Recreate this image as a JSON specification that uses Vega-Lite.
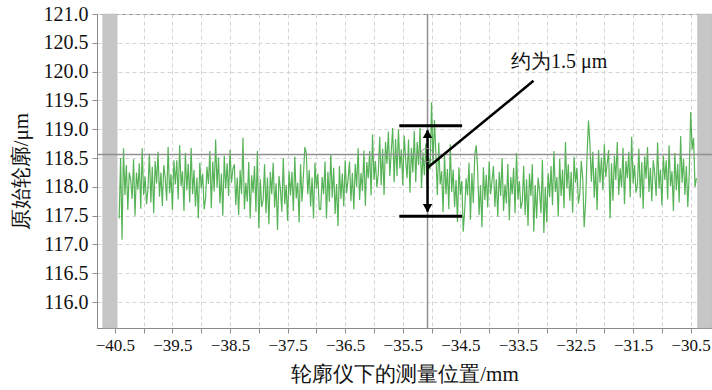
{
"$schema": "https://vega.github.io/schema/vega-lite/v6.json",
"width": 615,
"height": 314,
"autosize": {"type": "none"},
"padding": {"left": 97, "top": 14, "right": 0, "bottom": 62},
"config": {
  "font": "Liberation Serif",
  "view": {"stroke": "#8c8c8c", "strokeWidth": 1},
  "axis": {
    "labelFont": "Liberation Serif",
    "titleFont": "Liberation Serif",
    "labelColor": "#111",
    "titleColor": "#111",
    "titleFontWeight": "normal",
    "domainColor": "#8c8c8c",
    "tickColor": "#8c8c8c",
    "tickSize": 5,
    "labelOverlap": false,
    "gridColor": "#d4d4d4",
    "gridDash": [4, 3],
    "gridWidth": 1
  }
},
"datasets": {
  "profile": [
{"x":-40.425,"y":117.45},{"x":-40.4,"y":118.5},{"x":-40.375,"y":117.08},{"x":-40.35,"y":118.67},{"x":-40.325,"y":117.86},{"x":-40.3,"y":118.38},{"x":-40.275,"y":117.6},{"x":-40.25,"y":118.25},{"x":-40.225,"y":118.12},{"x":-40.2,"y":117.79},{"x":-40.175,"y":118.48},{"x":-40.15,"y":117.5},{"x":-40.125,"y":118.25},{"x":-40.1,"y":117.95},{"x":-40.075,"y":118.41},{"x":-40.05,"y":117.62},{"x":-40.025,"y":118.67},{"x":-40,"y":117.86},{"x":-39.975,"y":118.18},{"x":-39.95,"y":117.7},
{"x":-39.925,"y":117.96},{"x":-39.9,"y":118.58},{"x":-39.875,"y":117.73},{"x":-39.85,"y":118.35},{"x":-39.825,"y":117.54},{"x":-39.8,"y":118.45},{"x":-39.775,"y":118.06},{"x":-39.75,"y":118.61},{"x":-39.725,"y":117.83},{"x":-39.7,"y":118.25},{"x":-39.675,"y":117.67},{"x":-39.65,"y":118.38},{"x":-39.625,"y":118.15},{"x":-39.6,"y":117.76},{"x":-39.575,"y":118.69},{"x":-39.55,"y":117.89},{"x":-39.525,"y":118.22},{"x":-39.5,"y":117.6},{"x":-39.475,"y":118.46},{"x":-39.45,"y":118.04},
{"x":-39.425,"y":118.46},{"x":-39.4,"y":117.78},{"x":-39.375,"y":118.72},{"x":-39.35,"y":118.01},{"x":-39.325,"y":118.27},{"x":-39.3,"y":117.58},{"x":-39.275,"y":118.59},{"x":-39.25,"y":117.94},{"x":-39.225,"y":118.4},{"x":-39.2,"y":117.73},{"x":-39.175,"y":118.68},{"x":-39.15,"y":117.87},{"x":-39.125,"y":118.29},{"x":-39.1,"y":117.66},{"x":-39.075,"y":118.16},{"x":-39.05,"y":117.45},{"x":-39.025,"y":118.42},{"x":-39,"y":117.97},{"x":-38.975,"y":118.23},{"x":-38.95,"y":117.61},
{"x":-38.925,"y":117.79},{"x":-38.9,"y":118.35},{"x":-38.875,"y":118.05},{"x":-38.85,"y":118.62},{"x":-38.825,"y":117.63},{"x":-38.8,"y":118.44},{"x":-38.775,"y":117.92},{"x":-38.75,"y":118.82},{"x":-38.725,"y":117.99},{"x":-38.7,"y":118.51},{"x":-38.675,"y":117.71},{"x":-38.65,"y":118.23},{"x":-38.625,"y":117.5},{"x":-38.6,"y":118.54},{"x":-38.575,"y":117.97},{"x":-38.55,"y":118.41},{"x":-38.525,"y":117.84},{"x":-38.5,"y":118.64},{"x":-38.475,"y":118.07},{"x":-38.45,"y":118.31},
{"x":-38.425,"y":118.39},{"x":-38.4,"y":117.68},{"x":-38.375,"y":118.16},{"x":-38.35,"y":117.51},{"x":-38.325,"y":118.29},{"x":-38.3,"y":117.87},{"x":-38.275,"y":118.85},{"x":-38.25,"y":117.61},{"x":-38.225,"y":118.07},{"x":-38.2,"y":117.74},{"x":-38.175,"y":118.43},{"x":-38.15,"y":117.45},{"x":-38.125,"y":118.2},{"x":-38.1,"y":117.9},{"x":-38.075,"y":118.36},{"x":-38.05,"y":117.57},{"x":-38.025,"y":118.62},{"x":-38,"y":117.28},{"x":-37.975,"y":118.13},{"x":-37.95,"y":117.65},
{"x":-37.925,"y":117.77},{"x":-37.9,"y":118.39},{"x":-37.875,"y":117.54},{"x":-37.85,"y":118.16},{"x":-37.825,"y":117.35},{"x":-37.8,"y":118.26},{"x":-37.775,"y":117.87},{"x":-37.75,"y":118.42},{"x":-37.725,"y":117.64},{"x":-37.7,"y":118.06},{"x":-37.675,"y":117.25},{"x":-37.65,"y":118.19},{"x":-37.625,"y":117.96},{"x":-37.6,"y":117.57},{"x":-37.575,"y":118.5},{"x":-37.55,"y":117.7},{"x":-37.525,"y":118.03},{"x":-37.5,"y":117.41},{"x":-37.475,"y":118.27},{"x":-37.45,"y":117.85},
{"x":-37.425,"y":118.26},{"x":-37.4,"y":117.58},{"x":-37.375,"y":118.52},{"x":-37.35,"y":117.8},{"x":-37.325,"y":118.07},{"x":-37.3,"y":117.38},{"x":-37.275,"y":118.39},{"x":-37.25,"y":117.74},{"x":-37.225,"y":118.2},{"x":-37.2,"y":118.69},{"x":-37.175,"y":118.58},{"x":-37.15,"y":117.87},{"x":-37.125,"y":118.29},{"x":-37.1,"y":117.66},{"x":-37.075,"y":118.16},{"x":-37.05,"y":117.45},{"x":-37.025,"y":118.42},{"x":-37,"y":117.97},{"x":-36.975,"y":118.23},{"x":-36.95,"y":117.61},
{"x":-36.925,"y":117.61},{"x":-36.9,"y":118.17},{"x":-36.875,"y":117.87},{"x":-36.85,"y":118.44},{"x":-36.825,"y":117.45},{"x":-36.8,"y":118.26},{"x":-36.775,"y":117.74},{"x":-36.75,"y":118.57},{"x":-36.725,"y":117.81},{"x":-36.7,"y":118.33},{"x":-36.675,"y":117.53},{"x":-36.65,"y":118.05},{"x":-36.625,"y":117.32},{"x":-36.6,"y":118.36},{"x":-36.575,"y":117.79},{"x":-36.55,"y":118.23},{"x":-36.525,"y":117.66},{"x":-36.5,"y":118.46},{"x":-36.475,"y":117.89},{"x":-36.45,"y":118.13},
{"x":-36.425,"y":118.44},{"x":-36.4,"y":117.75},{"x":-36.375,"y":118.24},{"x":-36.35,"y":117.61},{"x":-36.325,"y":118.4},{"x":-36.3,"y":118.0},{"x":-36.275,"y":118.67},{"x":-36.25,"y":117.77},{"x":-36.225,"y":118.24},{"x":-36.2,"y":117.93},{"x":-36.175,"y":118.63},{"x":-36.15,"y":117.67},{"x":-36.125,"y":118.43},{"x":-36.1,"y":118.15},{"x":-36.075,"y":118.62},{"x":-36.05,"y":117.85},{"x":-36.025,"y":118.91},{"x":-36,"y":118.12},{"x":-35.975,"y":118.45},{"x":-35.95,"y":117.99},
{"x":-35.925,"y":118.24},{"x":-35.9,"y":118.87},{"x":-35.875,"y":118.03},{"x":-35.85,"y":118.66},{"x":-35.825,"y":117.86},{"x":-35.8,"y":118.78},{"x":-35.775,"y":118.4},{"x":-35.75,"y":118.96},{"x":-35.725,"y":118.19},{"x":-35.7,"y":118.62},{"x":-35.675,"y":119.02},{"x":-35.65,"y":118.08},{"x":-35.625,"y":118.83},{"x":-35.6,"y":118.19},{"x":-35.575,"y":119.0},{"x":-35.55,"y":118.32},{"x":-35.525,"y":118.65},{"x":-35.5,"y":118.03},{"x":-35.475,"y":118.89},{"x":-35.45,"y":118.47},
{"x":-35.425,"y":118.15},{"x":-35.4,"y":118.82},{"x":-35.375,"y":117.9},{"x":-35.35,"y":118.68},{"x":-35.325,"y":118.25},{"x":-35.3,"y":118.97},{"x":-35.275,"y":118.08},{"x":-35.25,"y":118.78},{"x":-35.225,"y":118.38},{"x":-35.2,"y":119.02},{"x":-35.175,"y":117.98},{"x":-35.15,"y":118.6},{"x":-35.125,"y":118.2},{"x":-35.1,"y":118.75},{"x":-35.075,"y":118.05},{"x":-35.05,"y":118.5},{"x":-35.025,"y":118.3},{"x":-35,"y":119.47},{"x":-34.975,"y":118.38},{"x":-34.95,"y":119.16},
{"x":-34.925,"y":118.56},{"x":-34.9,"y":117.86},{"x":-34.875,"y":118.77},{"x":-34.85,"y":118.04},{"x":-34.825,"y":118.27},{"x":-34.8,"y":117.56},{"x":-34.775,"y":118.55},{"x":-34.75,"y":117.87},{"x":-34.725,"y":118.31},{"x":-34.7,"y":117.61},{"x":-34.675,"y":118.74},{"x":-34.65,"y":117.91},{"x":-34.625,"y":118.3},{"x":-34.6,"y":117.65},{"x":-34.575,"y":118.12},{"x":-34.55,"y":117.39},{"x":-34.525,"y":118.34},{"x":-34.5,"y":117.86},{"x":-34.475,"y":118.1},{"x":-34.45,"y":117.22},
{"x":-34.425,"y":117.59},{"x":-34.4,"y":118.15},{"x":-34.375,"y":117.85},{"x":-34.35,"y":118.42},{"x":-34.325,"y":117.43},{"x":-34.3,"y":118.24},{"x":-34.275,"y":117.72},{"x":-34.25,"y":118.55},{"x":-34.225,"y":118.72},{"x":-34.2,"y":118.31},{"x":-34.175,"y":117.51},{"x":-34.15,"y":118.03},{"x":-34.125,"y":117.3},{"x":-34.1,"y":118.34},{"x":-34.075,"y":117.77},{"x":-34.05,"y":118.21},{"x":-34.025,"y":117.64},{"x":-34,"y":118.44},{"x":-33.975,"y":117.87},{"x":-33.95,"y":118.11},
{"x":-33.925,"y":118.36},{"x":-33.9,"y":117.65},{"x":-33.875,"y":118.13},{"x":-33.85,"y":117.48},{"x":-33.825,"y":118.26},{"x":-33.8,"y":117.84},{"x":-33.775,"y":118.5},{"x":-33.75,"y":117.58},{"x":-33.725,"y":118.04},{"x":-33.7,"y":117.71},{"x":-33.675,"y":118.4},{"x":-33.65,"y":117.42},{"x":-33.625,"y":118.17},{"x":-33.6,"y":117.87},{"x":-33.575,"y":118.33},{"x":-33.55,"y":117.54},{"x":-33.525,"y":118.59},{"x":-33.5,"y":117.78},{"x":-33.475,"y":118.1},{"x":-33.45,"y":117.62},
{"x":-33.425,"y":117.74},{"x":-33.4,"y":118.36},{"x":-33.375,"y":117.51},{"x":-33.35,"y":118.13},{"x":-33.325,"y":117.32},{"x":-33.3,"y":118.23},{"x":-33.275,"y":117.84},{"x":-33.25,"y":118.39},{"x":-33.225,"y":117.22},{"x":-33.2,"y":118.03},{"x":-33.175,"y":117.45},{"x":-33.15,"y":118.16},{"x":-33.125,"y":117.93},{"x":-33.1,"y":117.54},{"x":-33.075,"y":118.47},{"x":-33.05,"y":117.2},{"x":-33.025,"y":118.0},{"x":-33,"y":117.38},{"x":-32.975,"y":118.24},{"x":-32.95,"y":117.82},
{"x":-32.925,"y":118.36},{"x":-32.9,"y":117.68},{"x":-32.875,"y":118.62},{"x":-32.85,"y":117.91},{"x":-32.825,"y":118.17},{"x":-32.8,"y":117.48},{"x":-32.775,"y":118.49},{"x":-32.75,"y":117.84},{"x":-32.725,"y":118.3},{"x":-32.7,"y":117.63},{"x":-32.675,"y":118.78},{"x":-32.65,"y":117.97},{"x":-32.625,"y":118.39},{"x":-32.6,"y":117.76},{"x":-32.575,"y":118.26},{"x":-32.55,"y":117.55},{"x":-32.525,"y":118.52},{"x":-32.5,"y":118.07},{"x":-32.475,"y":118.33},{"x":-32.45,"y":117.71},
{"x":-32.425,"y":117.89},{"x":-32.4,"y":118.45},{"x":-32.375,"y":118.15},{"x":-32.35,"y":117.3},{"x":-32.325,"y":117.73},{"x":-32.3,"y":118.54},{"x":-32.275,"y":119.15},{"x":-32.25,"y":118.75},{"x":-32.225,"y":118.09},{"x":-32.2,"y":118.61},{"x":-32.175,"y":117.81},{"x":-32.15,"y":118.33},{"x":-32.125,"y":117.6},{"x":-32.1,"y":118.64},{"x":-32.075,"y":118.07},{"x":-32.05,"y":118.51},{"x":-32.025,"y":117.94},{"x":-32,"y":118.74},{"x":-31.975,"y":118.17},{"x":-31.95,"y":118.41},
{"x":-31.925,"y":118.64},{"x":-31.9,"y":117.45},{"x":-31.875,"y":118.41},{"x":-31.85,"y":117.76},{"x":-31.825,"y":118.54},{"x":-31.8,"y":118.12},{"x":-31.775,"y":118.78},{"x":-31.75,"y":117.86},{"x":-31.725,"y":118.32},{"x":-31.7,"y":117.99},{"x":-31.675,"y":118.68},{"x":-31.65,"y":117.7},{"x":-31.625,"y":118.45},{"x":-31.6,"y":118.15},{"x":-31.575,"y":118.61},{"x":-31.55,"y":117.82},{"x":-31.525,"y":118.87},{"x":-31.5,"y":118.06},{"x":-31.475,"y":118.38},{"x":-31.45,"y":117.9},
{"x":-31.425,"y":118.04},{"x":-31.4,"y":118.66},{"x":-31.375,"y":117.81},{"x":-31.35,"y":118.43},{"x":-31.325,"y":117.62},{"x":-31.3,"y":118.53},{"x":-31.275,"y":118.14},{"x":-31.25,"y":118.69},{"x":-31.225,"y":117.91},{"x":-31.2,"y":118.33},{"x":-31.175,"y":117.75},{"x":-31.15,"y":118.46},{"x":-31.125,"y":118.23},{"x":-31.1,"y":117.84},{"x":-31.075,"y":118.77},{"x":-31.05,"y":117.97},{"x":-31.025,"y":118.3},{"x":-31,"y":117.68},{"x":-30.975,"y":118.54},{"x":-30.95,"y":118.12},
{"x":-30.925,"y":118.46},{"x":-30.9,"y":117.78},{"x":-30.875,"y":118.72},{"x":-30.85,"y":118.01},{"x":-30.825,"y":118.27},{"x":-30.8,"y":117.58},{"x":-30.775,"y":118.59},{"x":-30.75,"y":117.94},{"x":-30.725,"y":118.4},{"x":-30.7,"y":117.73},{"x":-30.675,"y":118.88},{"x":-30.65,"y":118.07},{"x":-30.625,"y":118.49},{"x":-30.6,"y":117.86},{"x":-30.575,"y":118.36},{"x":-30.55,"y":117.65},{"x":-30.525,"y":118.25},{"x":-30.5,"y":119.3},{"x":-30.475,"y":118.65},{"x":-30.45,"y":118.85},
{"x":-30.425,"y":118.0},{"x":-30.4,"y":118.15}
  ],
  "bands": [{"x": -40.71, "x2": -40.46, "y": 115.55, "y2": 121.0}, {"x": -30.38, "x2": -30.13, "y": 115.55, "y2": 121.0}],
  "vline": [{"x": -35.07, "y": 115.55, "y2": 121.0}],
  "hline": [{"x": -40.81, "x2": -30.13, "y": 118.56}],
  "bars": [{"x": -35.56, "x2": -34.47, "y": 119.06}, {"x": -35.56, "x2": -34.47, "y": 117.49}],
  "arrow": [{"x": -35.07, "y": 118.98, "y2": 117.57}],
  "heads": [{"x": -35.07, "y": 118.92, "shape": "triangle-up"}, {"x": -35.07, "y": 117.63, "shape": "triangle-down"}],
  "ring": [{"x": -35.08, "y": 118.55}],
  "leader": [{"x": -35.07, "y": 118.33, "x2": -33.23, "y2": 119.84}],
  "label": [{"x": -33.62, "y": 120.17, "text": "约为1.5 μm"}]
},
"encoding": {
  "x": {
    "field": "x", "type": "quantitative",
    "title": "轮廓仪下的测量位置/mm",
    "scale": {"domain": [-40.81, -30.13], "nice": false, "zero": false},
    "axis": {
      "values": [-40.5,-40,-39.5,-39,-38.5,-38,-37.5,-37,-36.5,-36,-35.5,-35,-34.5,-34,-33.5,-33,-32.5,-32,-31.5,-31,-30.5],
      "labelExpr": "datum.value % 1 == 0 ? '' : format(datum.value, '.1f')",
      "labelOverlap": false,
      "labelFontSize": 17,
      "labelPadding": 4,
      "titleFontSize": 21,
      "titlePadding": 10,
      "grid": true
    }
  },
  "y": {
    "field": "y", "type": "quantitative",
    "title": "原始轮廓/μm",
    "scale": {"domain": [115.55, 121.0], "nice": false, "zero": false},
    "axis": {
      "values": [116,116.5,117,117.5,118,118.5,119,119.5,120,120.5,121],
      "format": ".1f",
      "labelOverlap": false,
      "labelFlush": false,
      "labelFontSize": 20,
      "labelPadding": 4,
      "titleFontSize": 21,
      "titlePadding": 12,
      "grid": true
    }
  }
},
"layer": [
  {
    "data": {"name": "bands"},
    "mark": {"type": "rect", "color": "#c6c6c6", "stroke": "#b8b8b8", "strokeWidth": 0.5},
    "encoding": {"x2": {"field": "x2"}, "y2": {"field": "y2"}}
  },
  {
    "data": {"name": "profile"},
    "mark": {"type": "line", "color": "#3aa63a", "strokeWidth": 1.2, "opacity": 0.85, "clip": true},
    "encoding": {}
  },
  {
    "data": {"name": "vline"},
    "mark": {"type": "rule", "color": "#909090", "strokeWidth": 1.5},
    "encoding": {"y2": {"field": "y2"}}
  },
  {
    "data": {"name": "hline"},
    "mark": {"type": "rule", "color": "#909090", "strokeWidth": 1.5},
    "encoding": {"x2": {"field": "x2"}}
  },
  {
    "data": {"name": "bars"},
    "mark": {"type": "rule", "color": "#000", "strokeWidth": 3},
    "encoding": {"x2": {"field": "x2"}}
  },
  {
    "data": {"name": "arrow"},
    "mark": {"type": "rule", "color": "#000", "strokeWidth": 2.5},
    "encoding": {"y2": {"field": "y2"}}
  },
  {
    "data": {"name": "heads"},
    "mark": {"type": "point", "filled": true, "color": "#000", "size": 90, "opacity": 1},
    "encoding": {"shape": {"field": "shape", "type": "nominal", "scale": null, "legend": null}}
  },
  {
    "data": {"name": "ring"},
    "mark": {"type": "point", "filled": false, "color": "#888", "size": 180, "strokeWidth": 1, "opacity": 1},
    "encoding": {}
  },
  {
    "data": {"name": "leader"},
    "mark": {"type": "rule", "color": "#000", "strokeWidth": 2.5},
    "encoding": {"x2": {"field": "x2"}, "y2": {"field": "y2"}}
  },
  {
    "data": {"name": "label"},
    "mark": {"type": "text", "align": "left", "baseline": "middle", "fontSize": 20, "font": "Liberation Serif", "color": "#111"},
    "encoding": {"text": {"field": "text"}}
  }
]
}
